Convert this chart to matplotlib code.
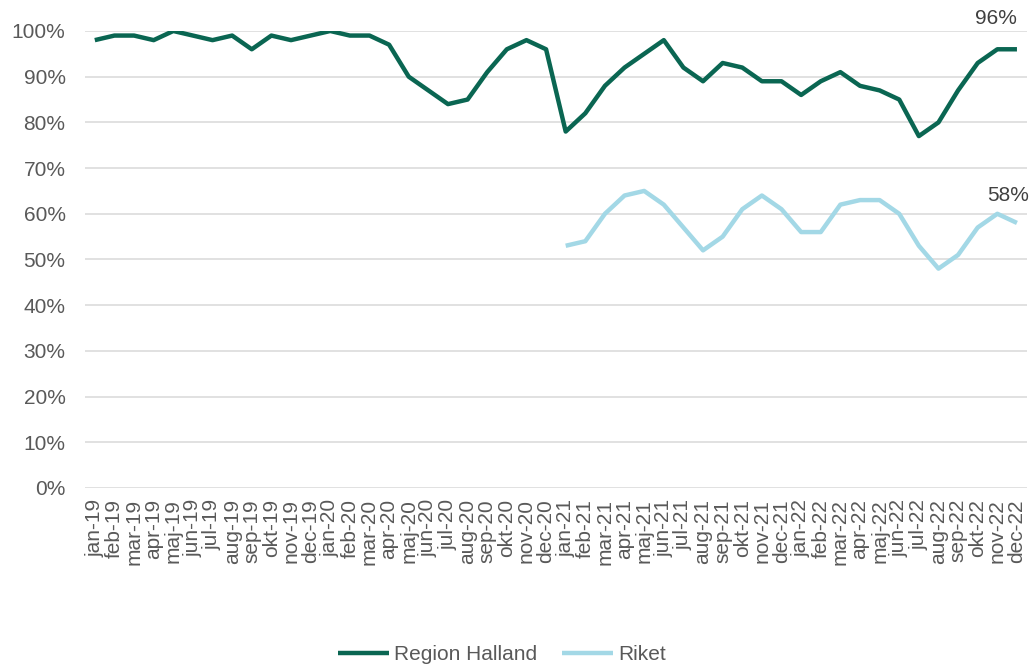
import matplotlib
matplotlib.use('Agg')
import matplotlib.pyplot as plt
import numpy as np

plt.rcParams['font.family'] = ['Liberation Sans', 'DejaVu Sans']

# månader jan-19 .. dec-22
months = ["jan", "feb", "mar", "apr", "maj", "jun",
          "jul", "aug", "sep", "okt", "nov", "dec"]
years = ["19", "20", "21", "22"]
labels = [f"{m}-{y}" for y in years for m in months]

halland = [98, 99, 99, 98, 100, 99, 98, 99, 96, 99, 98, 99,
           100, 99, 99, 97, 90, 87, 84, 85, 91, 96, 98, 96,
           78, 82, 88, 92, 95, 98, 92, 89, 93, 92, 89, 89,
           86, 89, 91, 88, 87, 85, 77, 80, 87, 93, 96, 96]
# Riket saknas före jan-21
riket = [None] * 24 + [53, 54, 60, 64, 65, 62, 57, 52, 55, 61, 64, 61,
                       56, 56, 62, 63, 63, 60, 53, 48, 51, 57, 60, 58]

GREEN = "#0a6652"
BLUE = "#a3d8e6"
TEXT = "#595959"
FS = 15

x = np.arange(len(labels))
h = np.array(halland, dtype=float) / 100
r = np.array([np.nan if v is None else v for v in riket], dtype=float) / 100

fig = plt.figure(figsize=(10.34, 6.68), dpi=100)
ax = fig.add_axes([0.0822, 0.2695, 0.9108, 0.6841])

ax.plot(x, h, color=GREEN, lw=3.2, label="Region Halland", solid_capstyle="butt")
ax.plot(x, r, color=BLUE, lw=3.2, label="Riket", solid_capstyle="butt")

ax.set_ylim(0, 1.0)
ax.set_xlim(-0.5, len(labels) - 0.5)
ax.set_yticks(np.arange(0, 1.01, 0.1))
ax.set_yticklabels([f"{int(round(v * 100))}%" for v in np.arange(0, 1.01, 0.1)])
ax.set_xticks(x)
ax.set_xticklabels(labels, rotation=90)
ax.tick_params(length=0, colors=TEXT, labelsize=FS)
ax.tick_params(axis='y', pad=14)
ax.tick_params(axis='x', pad=8)

ax.grid(axis='y', color="#d9d9d9", lw=1.1)
ax.set_axisbelow(True)
for s in ax.spines.values():
    s.set_visible(False)

# etiketter för sista värdet
ax.annotate(f"{halland[-1]}%", (x[-1], h[-1]), xytext=(0, 22), textcoords="offset points",
            ha="right", va="center", fontsize=FS, color="#404040", annotation_clip=False)
ax.annotate(f"{riket[-1]}%", (x[-1], r[-1]), xytext=(9, 20), textcoords="offset points",
            ha="right", va="center", fontsize=FS, color="#404040", annotation_clip=False)

fig.legend(loc="center", bbox_to_anchor=(0.4855, 0.0195), ncol=2, frameon=False,
           fontsize=FS, handlelength=2.45, handletextpad=0.25, columnspacing=1.2,
           labelcolor=TEXT)

fig.savefig("out.png", dpi=100)
